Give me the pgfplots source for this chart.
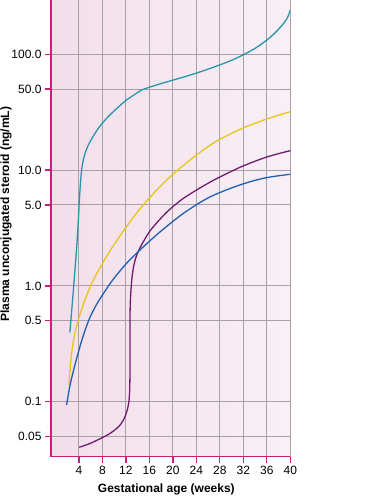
\documentclass[border=0pt]{standalone}
\usepackage{fontspec}
\setmainfont{Liberation Sans}
\usepackage{pgfplots}
\pgfplotsset{compat=1.18}
\definecolor{axmag}{RGB}{200,32,120}
\definecolor{bgL}{RGB}{243,222,234}
\definecolor{bgR}{RGB}{248,240,246}
\definecolor{gridg}{RGB}{168,160,168}
\definecolor{progc}{RGB}{40,150,168}
\definecolor{estradc}{RGB}{230,198,25}
\definecolor{estriolc}{RGB}{112,28,110}
\definecolor{estronec}{RGB}{30,96,176}
\begin{document}
\begin{tikzpicture}
\useasboundingbox (0,0) rectangle (368pt,498pt);
\begin{axis}[
  at={(51pt,41.3pt)}, anchor=south west,
  scale only axis, width=239.3pt, height=456.7pt,
  xmin=-0.75, xmax=40,
  ymode=log, ymin=0.0335, ymax=294,
  axis x line*=bottom, axis y line*=left,
  every outer x axis line/.append style={-},
  every outer y axis line/.append style={-},
  axis line style={axmag, line width=1.3pt, -},
  axis background/.style={shade, left color=bgL, right color=bgR},
  xtick={4,8,12,16,20,24,28,32,36,40},
  xticklabels={4,8,12,16,20,24,28,32,36,40},
  ytick={0.05,0.1,0.5,1,5,10,50,100},
  yticklabels={0.05,0.1,0.5,1.0,5.0,10.0,50.0,100.0},
  yminorticks=false, xminorticks=false,
  xmajorgrids, ymajorgrids,
  grid style={gridg, line width=0.9pt},
  tick align=outside, major tick length=6pt,
  tick style={axmag, line width=1.3pt},
  tick label style={font=\fontsize{12}{14}\selectfont},
  xlabel={Gestational age (weeks)},
  ylabel={Plasma unconjugated steroid (ng/mL)},
  every axis x label/.style={at={(axis description cs:0.482,0)}, anchor=center, yshift=-33pt, font=\fontsize{12}{14}\selectfont\bfseries},
  every axis y label/.style={at={(axis description cs:0,0.531)}, anchor=center, xshift=-45pt, rotate=90, font=\fontsize{12}{14}\selectfont\bfseries},
  every axis plot/.append style={line width=1.3pt, smooth, tension=0.5, no marks},
]
% Progesterone
\addplot[progc] coordinates {
(2.467,0.3973) (2.978,0.818) (3.489,1.742) (3.830,3.162) (4.085,5.518) (4.256,7.586) (4.426,9.63) (4.681,11.75)
(5.022,13.77) (5.533,16.15) (6.215,18.75) (7.066,21.98) (8.089,25.76) (9.281,29.91) (10.644,34.72) (12.007,39.90)
(13.37,44.52) (14.733,49.17) (16.436,52.72) (18.651,57.09) (21.888,63.68) (24.613,70.35) (27.509,79.25) (29.724,87.5)
(31.768,97.6) (33.983,112.2) (36.027,132.9) (37.56,155.8) (38.923,186.3) (39.605,212.0) (40,241.3)};
% Estradiol
\addplot[estradc] coordinates {
(2.296,0.1393) (2.722,0.2531) (3.319,0.392) (4.0,0.528) (5.022,0.7553) (6.215,1.059) (7.578,1.428) (9.281,2.002)
(10.985,2.697) (12.688,3.563) (14.392,4.615) (16.947,6.47) (19.503,8.718) (21.888,11.07) (24.613,14.19) (27.509,17.84)
(31.768,22.87) (36.027,27.63) (40,31.94)};
% Estriol
\addplot[estriolc] coordinates {
(4.051,0.04039) (5.874,0.04355) (8.037,0.04906) (9.281,0.05314) (10.422,0.05870) (11.155,0.06420) (11.751,0.07229)
(12.177,0.08312) (12.484,0.09745) (12.637,0.1213) (12.688,0.1602) (12.688,0.2292) (12.688,0.4161) (12.722,0.6193)
(12.773,0.7553) (12.893,0.9591) (13.08,1.218) (13.37,1.515) (13.796,1.813) (14.392,2.125) (15.244,2.541) (16.095,2.979)
(17.458,3.598) (18.991,4.346) (20.354,4.995) (21.888,5.743) (24.613,7.005) (27.509,8.463) (31.768,10.74) (36.027,12.98) (40,14.71)};
% Estrone
\addplot[estronec] coordinates {
(1.90,0.0937) (2.467,0.1367) (3.148,0.1916) (3.830,0.2581) (4.511,0.341) (5.193,0.4329) (5.874,0.5334) (6.726,0.6509)
(7.58,0.771) (9.62,1.10) (12.01,1.545) (14.39,2.04) (17.8,2.92) (21.89,4.26) (26.32,5.86) (31.43,7.44) (35.69,8.55) (40,9.2)};
\node[anchor=west, xshift=1.5pt, font=\fontsize{12}{14}\selectfont] at (axis cs:40,241.3) {Progesterone};
\node[anchor=west, xshift=1.5pt, font=\fontsize{12}{14}\selectfont] at (axis cs:40,31.94) {Estradiol};
\node[anchor=west, xshift=1.5pt, font=\fontsize{12}{14}\selectfont] at (axis cs:40,14.71) {Estriol};
\node[anchor=west, xshift=1.5pt, font=\fontsize{12}{14}\selectfont] at (axis cs:40,9.0) {Estrone};
\end{axis}
\end{tikzpicture}
\end{document}
